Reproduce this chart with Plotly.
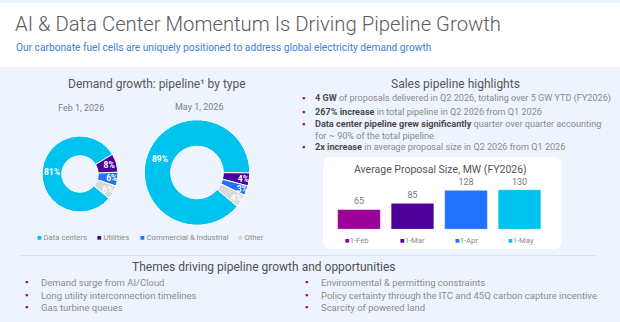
import plotly.graph_objects as go

W, H = 620, 322

# ---------------- data ----------------
pipeline_types = ["Data centers", "Utilities", "Commercial & Industrial", "Other"]
feb_share = [81, 8, 6, 6]
may_share = [89, 4, 3, 4]
type_colors = ["#00C2EE", "#4B0099", "#2271FF", "#D9D9D9"]

bar_dates = ["1-Feb", "1-Mar", "1-Apr", "1-May"]
bar_values = [65, 85, 128, 130]
bar_colors = ["#9B0099", "#4B0099", "#2271FF", "#00C2EE"]

highlights = [
    ("4 GW", " of proposals delivered in Q2 2026, totaling over 5 GW YTD (FY2026)"),
    ("267% increase", " in total pipeline in Q2 2026 from Q1 2026"),
    ("Data center pipeline grew significantly", " quarter over quarter accounting<br>for ~ 90% of the total pipeline"),
    ("2x increase", " in average proposal size in Q2 2026 from Q1 2026"),
]
themes_left = ["Demand surge from AI/Cloud", "Long utility interconnection timelines", "Gas turbine queues"]
themes_right = ["Environmental & permitting constraints",
                "Policy certainty through the ITC and 45Q carbon capture incentive",
                "Scarcity of powered land"]

FONT = "Roboto"
BG = "#EEF4FD"
BULLET = "#A1007F"


def X(px):
    return px / W


def Y(py):
    return 1 - py / H


fig = go.Figure()

# ---------------- donuts ----------------
def donut(values, cx, cy, r, hole):
    fig.add_trace(go.Pie(
        labels=pipeline_types, values=values, text=[f"{v}%" for v in values],
        textinfo="text", texttemplate="%{text}", textposition="inside",
        insidetextorientation="horizontal",
        textfont=dict(family=FONT, size=8.5, color="white", weight="bold"),
        marker=dict(colors=type_colors, line=dict(color="white", width=1)),
        hole=hole, sort=False, direction="clockwise", rotation=130,
        showlegend=False, hoverinfo="skip",
        domain=dict(x=[X(cx - r), X(cx + r)], y=[Y(cy + r), Y(cy - r)]),
    ))


donut(feb_share, 80, 174, 38, 0.48)
donut(may_share, 197, 172.5, 52.7, 0.5)

# ---------------- bars ----------------
for d, v, c in zip(bar_dates, bar_values, bar_colors):
    fig.add_trace(go.Bar(
        x=[d], y=[v], marker=dict(color=c, line=dict(color="rgba(255,255,255,0.6)", width=0.8)),
        text=[str(v)], textposition="outside", cliponaxis=False,
        textfont=dict(family=FONT, size=9, color="#7A7A7A"),
        xaxis="x", yaxis="y", showlegend=False, hoverinfo="skip",
    ))

bx0, bx1 = 332.25, 546.25
base_py, scale = 229.3, 0.305
ymax = 150
fig.update_layout(
    xaxis=dict(domain=[X(bx0), X(bx1)], categoryorder="array", categoryarray=bar_dates,
               showticklabels=False, showgrid=False, zeroline=False, showline=False,
               range=[-0.5, 3.5], fixedrange=True),
    yaxis=dict(domain=[Y(base_py), Y(base_py - ymax * scale)], range=[0, ymax],
               showticklabels=False, showgrid=False, zeroline=False, showline=False),
    bargap=0.2,
)

# ---------------- shapes ----------------
shapes = []
shapes.append(dict(type="rect", xref="paper", yref="paper", x0=0, x1=1, y0=0, y1=Y(67),
                   fillcolor=BG, line=dict(width=0), layer="below"))
shapes.append(dict(type="rect", xref="paper", yref="paper", x0=0, x1=1, y0=Y(3), y1=1,
                   fillcolor=BG, line=dict(width=0), layer="below"))
# separator
shapes.append(dict(type="line", xref="paper", yref="paper", x0=X(19), x1=X(596), y0=Y(255.5), y1=Y(255.5),
                   line=dict(color="#DCE3EE", width=1), layer="below"))
# rounded white card
cx0, cx1, cy0, cy1, rr = 323, 562, 157, 249, 8
p = (f"M {X(cx0 + rr)},{Y(cy0)} L {X(cx1 - rr)},{Y(cy0)} Q {X(cx1)},{Y(cy0)} {X(cx1)},{Y(cy0 + rr)} "
     f"L {X(cx1)},{Y(cy1 - rr)} Q {X(cx1)},{Y(cy1)} {X(cx1 - rr)},{Y(cy1)} "
     f"L {X(cx0 + rr)},{Y(cy1)} Q {X(cx0)},{Y(cy1)} {X(cx0)},{Y(cy1 - rr)} "
     f"L {X(cx0)},{Y(cy0 + rr)} Q {X(cx0)},{Y(cy0)} {X(cx0 + rr)},{Y(cy0)} Z")
shapes.append(dict(type="path", xref="paper", yref="paper", path=p, fillcolor="white",
                   line=dict(width=0), layer="below"))

# ---------------- annotations ----------------
ann = []


def text(px, py, s, size, color="#555555", anchor="left", weight=None):
    f = dict(family=FONT, size=size, color=color)
    if weight:
        f["weight"] = weight
    ann.append(dict(x=X(px), y=Y(py), xref="paper", yref="paper", text=s, showarrow=False,
                    xanchor=anchor, yanchor="middle", font=f, align="left"))


text(13, 24, "AI &amp; Data Center Momentum Is Driving Pipeline Growth", 20.3, "#5C5C5C", weight=300)
text(14, 47, "Our carbonate fuel cells are uniquely positioned to address global electricity demand growth",
     10.2, "#3D7EDB")

text(157, 84, "Demand growth: pipeline¹ by type", 12, "#555555", "center")
text(81, 108, "Feb 1, 2026", 9, "#808080", "center")
text(199, 107, "May 1, 2026", 9, "#808080", "center")

# donut legend
leg_x = [37, 97, 140, 238]
for lx, name, c in zip(leg_x, pipeline_types, type_colors):
    text(lx - 2, 238, f"<span style='color:{c}'>■</span> {name}", 7.7, "#8A8A8A")

text(455, 84, "Sales pipeline highlights", 12, "#555555", "center")
hl_y = [98, 111.5, 129.5, 147.3]
for (b, rest), hy in zip(highlights, hl_y):
    text(300, hy if "<br>" not in rest else 124, "▪", 9, BULLET)
    text(313, hy, f"<span style='color:#4A4A4A'><b>{b}</b></span>{rest}", 9.1, "#8A8A8A")

text(440, 169, "Average Proposal Size, MW (FY2026)", 10.5, "#555555", "center")
bl_x = [345, 400, 455, 508]
for lx, name, c in zip(bl_x, bar_dates, bar_colors):
    text(lx - 2, 240.7, f"<span style='color:{c}'>■</span>{name}", 7.7, "#8A8A8A")

text(264, 266.5, "Themes driving pipeline growth and opportunities", 12, "#505050", "center")
ty = [282.3, 295, 307.3]
for s, yy in zip(themes_left, ty):
    text(23, yy, "▪", 9, BULLET)
    text(39, yy, s, 9.5, "#8C8C8C")
for s, yy in zip(themes_right, ty):
    text(303, yy, "▪", 9, BULLET)
    text(319, yy, s, 9.5, "#8C8C8C")

fig.update_layout(
    width=W, height=H, margin=dict(l=0, r=0, t=0, b=0),
    paper_bgcolor="white", plot_bgcolor="rgba(0,0,0,0)",
    shapes=shapes, annotations=ann,
    uniformtext=dict(minsize=8.5, mode="show"),
    font=dict(family=FONT),
)

fig.write_html("out.html")
